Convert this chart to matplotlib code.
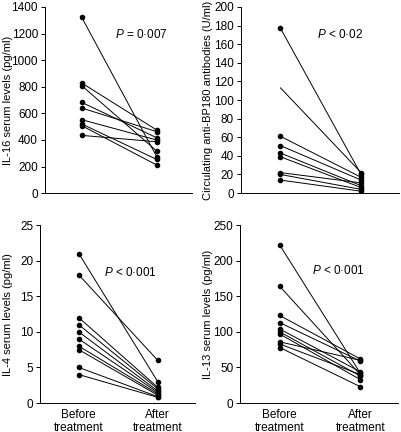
import matplotlib
matplotlib.use("Agg")
import matplotlib.pyplot as plt

plt.rcParams['font.family'] = ['Liberation Sans', 'DejaVu Sans']
plt.rcParams['mathtext.fontset'] = 'custom'
plt.rcParams['mathtext.it'] = 'Liberation Sans:italic'
plt.rcParams['mathtext.rm'] = 'Liberation Sans'

groups = ["Before\ntreatment", "After\ntreatment"]

il16_before = [1322, 828, 808, 682, 640, 552, 520, 507, 434]
il16_after = [273, 474, 316, 416, 462, 399, 253, 211, 386]

bp180_before = [177, 113, 61, 51, 43, 39, 22, 20, 14]
bp180_after = [20, 22, 17, 14, 8, 6, 11, 4, 2]
bp180_marker_before = [True, False, True, True, True, True, True, True, True]

il4_before = [21, 18, 12, 11, 10, 9, 8, 7.5, 5, 4]
il4_after = [3, 6, 2.2, 2.0, 1.7, 1.5, 1.3, 1.1, 0.9, 0.8]

il13_before = [222, 164, 123, 113, 104, 100, 97, 86, 83, 78]
il13_after = [42, 40, 62, 59, 44, 38, 33, 60, 40, 23]

panels = [
    dict(before=il16_before, after=il16_after, ylim=(0, 1400), step=200,
         ylabel="IL-16 serum levels (pg/ml)", ptext="= 0·007",
         rect=[0.112, 0.553, 0.367, 0.431], pxy=(0.475, 0.85), xt=False,
         lx=-0.218),
    dict(before=bp180_before, after=bp180_after, ylim=(0, 200), step=20,
         ylabel="Circulating anti-BP180 antibodies (U/ml)", ptext="< 0·02",
         rect=[0.601, 0.553, 0.394, 0.431], pxy=(0.48, 0.85), xt=False,
         mk=bp180_marker_before, lx=-0.177),
    dict(before=il4_before, after=il4_after, ylim=(0, 25), step=5,
         ylabel="IL-4 serum levels (pg/ml)", ptext="< 0·001",
         rect=[0.100, 0.067, 0.386, 0.412], pxy=(0.41, 0.735), xt=True,
         lx=-0.174),
    dict(before=il13_before, after=il13_after, ylim=(0, 250), step=50,
         ylabel="IL-13 serum levels (pg/ml)", ptext="< 0·001",
         rect=[0.599, 0.067, 0.394, 0.412], pxy=(0.455, 0.745), xt=True,
         lx=-0.171),
]

fig = plt.figure(figsize=(4.01, 4.32), dpi=100)
xpos = [1, 2]
for p in panels:
    ax = fig.add_axes(p['rect'])
    mk = p.get('mk', [True] * len(p['before']))
    for b, a, m in zip(p['before'], p['after'], mk):
        ax.plot(xpos, [b, a], color='black', lw=0.7, zorder=2)
        if m:
            ax.plot([xpos[0]], [b], 'o', color='black', ms=3.0, zorder=3)
        ax.plot([xpos[1]], [a], 'o', color='black', ms=3.0, zorder=3)
    ax.set_xlim(0.51, 2.47)
    ax.set_ylim(*p['ylim'])
    ax.set_yticks(range(p['ylim'][0], p['ylim'][1] + 1, p['step']))
    ax.spines['top'].set_visible(False)
    ax.spines['right'].set_visible(False)
    for s in ['left', 'bottom']:
        ax.spines[s].set_linewidth(0.7)
    ax.tick_params(axis='y', labelsize=8.5, length=3, width=0.7, pad=2)
    ax.tick_params(axis='x', length=0, labelsize=8.5, pad=4)
    if p['xt']:
        ax.set_xticks(xpos)
        ax.set_xticklabels(groups, linespacing=1.1)
    else:
        ax.set_xticks([])
    ax.set_ylabel(p['ylabel'], fontsize=8)
    ax.yaxis.set_label_coords(p['lx'], 0.5)
    ax.text(p['pxy'][0], p['pxy'][1], "$P$ " + p['ptext'], transform=ax.transAxes,
            fontsize=8.5, ha='left', va='center')
    ax.patch.set_alpha(0)

fig.savefig("out.png", dpi=100)
